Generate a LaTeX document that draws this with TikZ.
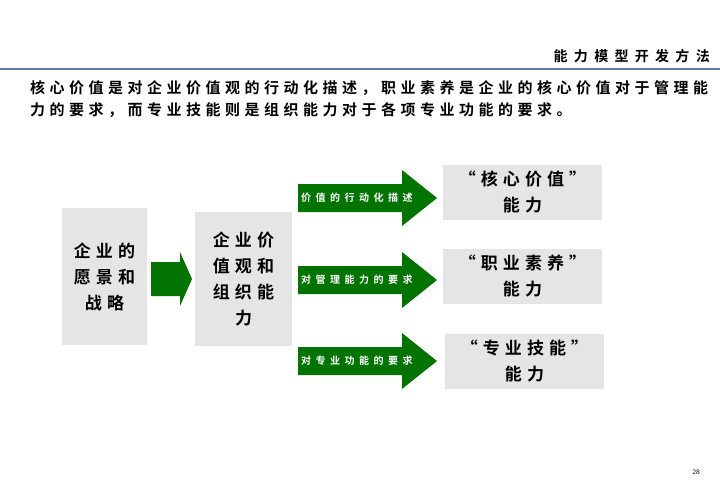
\documentclass[tikz,border=0pt]{standalone}
\usepackage{fontspec}
\newfontfamily\cjk[BoldFont={Noto Sans CJK SC Bold}]{Noto Sans CJK SC}
\newfontfamily\cjksp[BoldFont={Noto Sans CJK SC Bold},LetterSpace=30]{Noto Sans CJK SC}
\newfontfamily\cjkwide[BoldFont={Noto Sans CJK SC Bold},LetterSpace=45]{Noto Sans CJK SC}
\begin{document}
\begin{tikzpicture}[x=1pt,y=-1pt,
  gbox/.style={fill=black!10,draw=none,inner sep=0pt,align=center,font=\cjksp\bfseries\fontsize{17}{26}\selectfont},
  lbl/.style={text=white,font=\cjkwide\bfseries\fontsize{10}{12}\selectfont,anchor=west,inner sep=0pt},
  garrow/.style={fill=green!45!black,draw=none}]
\useasboundingbox (0,0) rectangle (720,498);
\node[anchor=east,font=\cjkwide\bfseries\fontsize{14}{15}\selectfont,inner sep=0pt] (hdr) at (710,56) {能力模型开发方法};
\draw[color=cyan!50!blue!70!black!80,line width=1.2pt] (0,69) -- (720,69);
\node[anchor=north west,align=left,inner sep=0pt,font=\cjksp\bfseries\fontsize{15}{22}\selectfont] (txt) at (30,80) {核心价值是对企业价值观的行动化描述，职业素养是企业的核心价值对于管理能\\力的要求，而专业技能则是组织能力对于各项专业功能的要求。};
\node[gbox,minimum width=85,minimum height=137] (b1) at (104.5,276.5) {企业的\\愿景和\\战略};
\node[gbox,minimum width=97,minimum height=134] (b2) at (243.5,279) {企业价\\值观和\\组织能\\力};
\fill[garrow] (151,262) -- (180,262) -- (180,252) -- (192,279) -- (180,306) -- (180,296) -- (151,296) -- cycle;
\foreach \c/\t/\n in {198/价值的行动化描述/a1,280/对管理能力的要求/a2,361/对专业功能的要求/a3}{
  \fill[garrow] (298,\c-14) -- (402,\c-14) -- (402,\c-28) -- (437,\c) -- (402,\c+28) -- (402,\c+14) -- (298,\c+14) -- cycle;
  \node[lbl] (\n) at (301,\c) {\t};
}
\node[gbox,minimum width=159,minimum height=55] (r1) at (522.5,192) {“核心价值”\\能力};
\node[gbox,minimum width=159,minimum height=55] (r2) at (522.5,276) {“职业素养”\\能力};
\node[gbox,minimum width=159,minimum height=55] (r3) at (524.5,361) {“专业技能”\\能力};
\node[font=\sffamily\fontsize{7}{8}\selectfont,inner sep=0pt] (pg) at (696,472) {28};
\end{tikzpicture}
\end{document}
